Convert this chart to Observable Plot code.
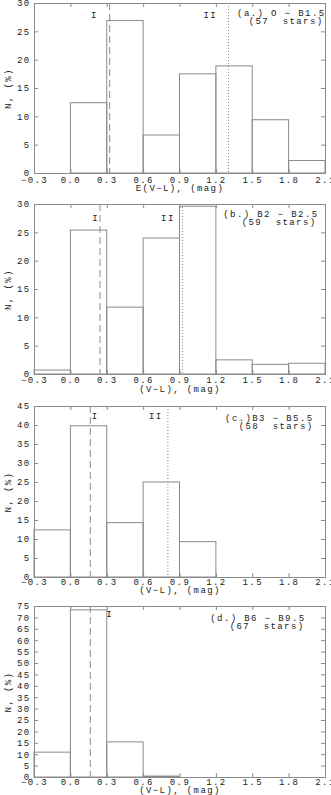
<!DOCTYPE html>
<html>
<head>
<meta charset="utf-8">
<script src="https://cdn.jsdelivr.net/npm/d3@7"></script>
<script src="https://cdn.jsdelivr.net/npm/@observablehq/plot@0.6"></script>
<style>
  html, body { margin: 0; padding: 0; background: #fff; }
  #chart svg { display: block; }
</style>
</head>
<body>
<div id="chart"></div>
<script>
// ---- data ----
const binEdges = [-0.3, 0.0, 0.3, 0.6, 0.9, 1.2, 1.5, 1.8, 2.1];
const xTicks = [-0.3, 0.0, 0.3, 0.6, 0.9, 1.2, 1.5, 1.8, 2.1];

const pctA = [0.0, 12.4, 26.9, 6.7, 17.5, 18.9, 9.4, 2.2];
const pctB = [0.7, 25.4, 11.8, 24.0, 29.6, 2.5, 1.7, 1.9];
const pctC = [12.4, 39.8, 14.3, 25.0, 9.3, 0.0, 0.0, 0.0];
const pctD = [10.9, 73.3, 15.4, 0.4, 0.0, 0.0, 0.0, 0.0];

const yMaxA = 30, yMaxB = 30, yMaxC = 45, yMaxD = 75;

const peakIA = 0.32, peakIIA = 1.30;
const peakIB = 0.24, peakIIB = 0.92;
const peakIC = 0.16, peakIIC = 0.80;
const peakID = 0.16;

const labelsA = [{x: 0.195, t: "I"}, {x: 1.15, t: "II"}];
const labelsB = [{x: 0.205, t: "I"}, {x: 0.80, t: "II"}];
const labelsC = [{x: 0.20, t: "I"}, {x: 0.70, t: "II"}];
const labelsD = [{x: 0.32, t: "I"}];

const titleA = ["(a.) O − B1.5", "(57\u00a0 stars)"];
const titleB = ["(b.) B2 − B2.5", "(59\u00a0 stars)"];
const titleC = ["(c.)B3 − B5.5", "(58\u00a0 stars)"];
const titleD = ["(d.) B6 − B9.5", "(67\u00a0 stars)"];

const xLabelA = "E(V−L), (mag)";
const xLabelOther = "(V−L), (mag)";
const yLabel = "N, (%)";

// ---- drawing ----
const W = 331, ML = 34, MR = 6;
const LINE = "#8a8a8a";
const TEXT = "#222";
const fmt = d3.format(".1f");

function panel(o) {
  const bins = o.pct.map((v, i) => ({x1: binEdges[i], x2: binEdges[i + 1], y: v}));
  const yTicks = d3.range(0, o.ymax + 0.001, 5);
  const innerH = o.height - o.mt - o.mb;
  const innerW = W - ML - MR;
  const marks = [
    Plot.rectY(bins, {x1: "x1", x2: "x2", y: "y", fill: "none", stroke: LINE, strokeWidth: 1}),
    Plot.frame({stroke: LINE}),
    Plot.ruleX(xTicks, {stroke: LINE, insetBottom: innerH - 4}),
    Plot.ruleX(xTicks, {stroke: LINE, insetTop: innerH - 4}),
    Plot.ruleY(yTicks, {stroke: LINE, insetRight: innerW - 4}),
    Plot.ruleY(yTicks, {stroke: LINE, insetLeft: innerW - 4}),
    Plot.ruleX([o.pI], {stroke: LINE, strokeDasharray: "7,4"}),
  ];
  if (o.pII != null) marks.push(Plot.ruleX([o.pII], {stroke: LINE, strokeDasharray: "1,2"}));
  marks.push(
    Plot.text(o.labels, {x: "x", text: "t", frameAnchor: "top", dy: o.labDy, lineAnchor: "middle", fill: TEXT}),
    Plot.text([o.title[0]], {frameAnchor: "top-right", dx: -o.t1dx, dy: o.tDy, textAnchor: "end", lineAnchor: "middle", fill: TEXT}),
    Plot.text([o.title[1]], {frameAnchor: "top-right", dx: -o.t2dx, dy: o.tDy + 8, textAnchor: "end", lineAnchor: "middle", fill: TEXT}),
    Plot.text([o.xlabel], {frameAnchor: "bottom", dy: o.xlDy, textAnchor: "middle", lineAnchor: "middle", fill: TEXT}),
    Plot.text([yLabel], {frameAnchor: "left", dx: -26, rotate: -90, textAnchor: "middle", lineAnchor: "middle", fill: TEXT})
  );
  return Plot.plot({
    width: W, height: o.height,
    marginLeft: ML, marginRight: MR, marginTop: o.mt, marginBottom: o.mb,
    style: {fontFamily: "'Liberation Mono', monospace", fontSize: "9px", letterSpacing: "1.4px", color: TEXT, background: "#fff", overflow: "visible"},
    x: {domain: [-0.3, 2.1], ticks: xTicks, tickSize: 0, tickPadding: o.xPad, tickFormat: fmt, label: null},
    y: {domain: [0, o.ymax], ticks: yTicks, tickSize: 0, tickPadding: 4, label: null},
    marks
  });
}

const chart = document.getElementById("chart");
chart.append(panel({pct: pctA, ymax: yMaxA, pI: peakIA, pII: peakIIA, labels: labelsA, title: titleA,
  xlabel: xLabelA, height: 200, mt: 3, mb: 27, labDy: 12, tDy: 10, t1dx: 0, t2dx: 2, xlDy: 15, xPad: 3}));
chart.append(panel({pct: pctB, ymax: yMaxB, pI: peakIB, pII: peakIIB, labels: labelsB, title: titleB,
  xlabel: xLabelOther, height: 200, mt: 4, mb: 26, labDy: 14, tDy: 10, t1dx: 7, t2dx: 9, xlDy: 15, xPad: 2}));
chart.append(panel({pct: pctC, ymax: yMaxC, pI: peakIC, pII: peakIIC, labels: labelsC, title: titleC,
  xlabel: xLabelOther, height: 200, mt: 6, mb: 23, labDy: 10, tDy: 12, t1dx: 12, t2dx: 12, xlDy: 13, xPad: 1}));
chart.append(panel({pct: pctD, ymax: yMaxD, pI: peakID, pII: null, labels: labelsD, title: titleD,
  xlabel: xLabelOther, height: 195, mt: 6, mb: 18, labDy: 8, tDy: 12, t1dx: 20, t2dx: 21, xlDy: 13, xPad: 1}));
</script>
</body>
</html>
